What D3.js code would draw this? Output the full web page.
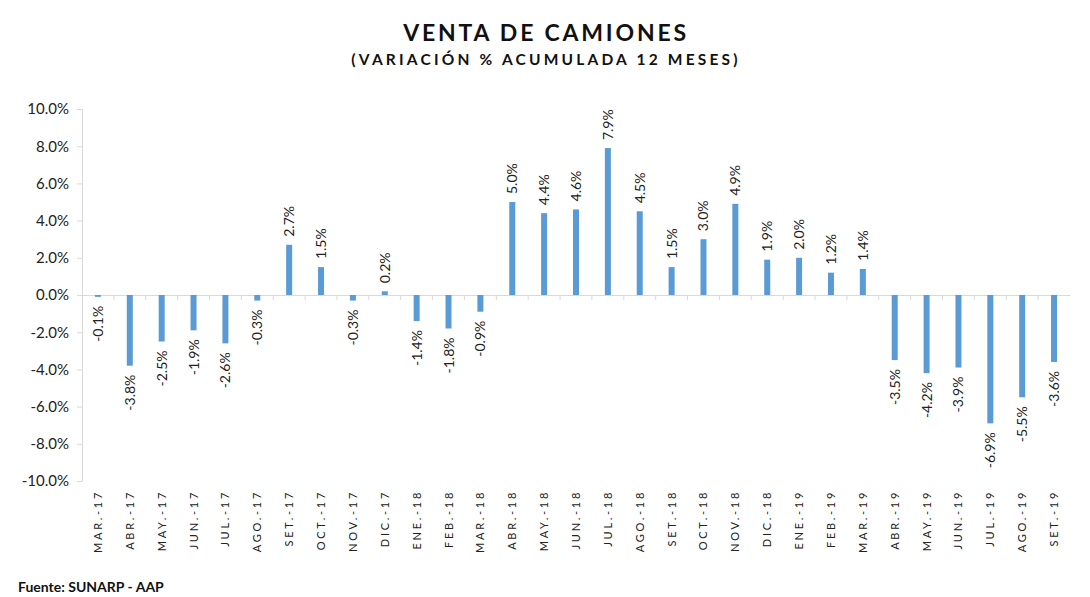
<!DOCTYPE html>
<html>
<head>
<meta charset="utf-8">
<script src="https://cdn.jsdelivr.net/npm/d3@7"></script>
<style>
  body { margin: 0; background: #fff; }
  text { font-family: Lato, "Open Sans", sans-serif; }
</style>
</head>
<body>
<div id="chart"></div>
<script>
// datos: venta de camiones, variacion % acumulada 12 meses
const months = ["MAR.-17","ABR.-17","MAY.-17","JUN.-17","JUL.-17","AGO.-17","SET.-17","OCT.-17","NOV.-17","DIC.-17",
  "ENE.-18","FEB.-18","MAR.-18","ABR.-18","MAY.-18","JUN.-18","JUL.-18","AGO.-18","SET.-18","OCT.-18","NOV.-18","DIC.-18",
  "ENE.-19","FEB.-19","MAR.-19","ABR.-19","MAY.-19","JUN.-19","JUL.-19","AGO.-19","SET.-19"];
const variation = [-0.1,-3.8,-2.5,-1.9,-2.6,-0.3,2.7,1.5,-0.3,0.2,
  -1.4,-1.8,-0.9,5.0,4.4,4.6,7.9,4.5,1.5,3.0,4.9,1.9,
  2.0,1.2,1.4,-3.5,-4.2,-3.9,-6.9,-5.5,-3.6];
const yTicks = [10,8,6,4,2,0,-2,-4,-6,-8,-10];

const W = 1090, H = 597;
const svg = d3.select("#chart").append("svg").attr("width", W).attr("height", H);

// titles
svg.append("text").attr("x", 546).attr("y", 41).attr("text-anchor","middle")
  .attr("font-size","23px").attr("font-weight","bold").attr("letter-spacing","2.8px").attr("fill","#111")
  .text("VENTA DE CAMIONES");
svg.append("text").attr("x", 546).attr("y", 65).attr("text-anchor","middle")
  .attr("font-size","15.5px").attr("font-weight","bold").attr("letter-spacing","3.2px").attr("fill","#111")
  .text("(VARIACIÓN % ACUMULADA 12 MESES)");

const x = d3.scaleBand().domain(months).range([82, 1070]);
const y = d3.scaleLinear().domain([-10, 10]).range([481, 109]);

// y axis
const yAxis = svg.append("g").attr("transform","translate(82,0)")
  .call(d3.axisLeft(y).tickValues(yTicks).tickSize(5).tickPadding(8).tickFormat(d => d.toFixed(1) + "%"));
yAxis.select(".domain").attr("stroke","#d9d9d9");
yAxis.selectAll(".tick line").attr("stroke","#d9d9d9");
yAxis.selectAll(".tick text").attr("font-size","15px").attr("fill","#222")
  .style("font-family","Lato, sans-serif");

// zero line with category ticks
const xAxis = svg.append("g").attr("transform", `translate(0,${y(0)})`)
  .call(d3.axisBottom(x).tickSize(0).tickFormat(""));
xAxis.select(".domain").attr("stroke","#d9d9d9");
svg.append("g").selectAll("line").data(months.slice(1)).enter().append("line")
  .attr("x1", d => x(d)).attr("x2", d => x(d))
  .attr("y1", y(0)).attr("y2", y(0) + 5).attr("stroke","#d9d9d9");

// bars
const barW = 6;
svg.append("g").selectAll("rect").data(variation).enter().append("rect")
  .attr("x", (d,i) => x(months[i]) + x.bandwidth()/2 - barW/2)
  .attr("y", d => y(Math.max(0, d)))
  .attr("width", barW)
  .attr("height", d => Math.abs(y(d) - y(0)))
  .attr("fill", "#5b9bd5");

// value labels
svg.append("g").selectAll("text").data(variation).enter().append("text")
  .attr("transform", (d,i) => {
    const cx = x(months[i]) + x.bandwidth()/2 + 5;
    const cy = d >= 0 ? y(d) - 8 : y(d) + 9;
    return `translate(${cx},${cy}) rotate(-90)`;
  })
  .attr("text-anchor", d => d >= 0 ? "start" : "end")
  .attr("font-size","14px").attr("fill","#222")
  .text(d => d.toFixed(1) + "%");

// month labels
svg.append("g").selectAll("text").data(months).enter().append("text")
  .attr("transform", d => `translate(${x(d) + x.bandwidth()/2 + 4},490) rotate(-90)`)
  .attr("text-anchor","end").attr("font-size","11px").attr("letter-spacing","2.7px").attr("fill","#222")
  .text(d => d);

// fuente
svg.append("text").attr("x", 18).attr("y", 592)
  .attr("font-size","14px").attr("font-weight","bold").attr("fill","#111")
  .text("Fuente: SUNARP - AAP");
</script>
</body>
</html>
